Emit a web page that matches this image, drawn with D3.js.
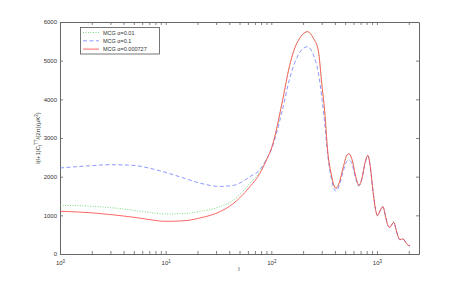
<!DOCTYPE html>
<html>
<head>
<meta charset="utf-8">
<script src="https://cdn.jsdelivr.net/npm/d3@7"></script>
<style>
  body { margin: 0; background: #fff; }
  text { font-family: "Liberation Sans", Arial, sans-serif; fill: #333; }
</style>
</head>
<body>
<div id="chart"></div>
<script>
// multipole values (shared by all curves)
var ells = [1, 2, 3, 5, 7, 10, 15, 21, 33, 43, 50, 63, 78, 90, 100, 128, 148, 164, 190, 220, 250, 278, 303, 320, 341, 370, 408, 440, 480, 520, 542, 580, 630, 674, 720, 770, 820, 860, 920, 970, 1013, 1070, 1137, 1200, 1260, 1325, 1390, 1445, 1520, 1600, 1647, 1710, 1770, 1850, 1950, 2050];

var redVals = [1105, 1065, 1020, 950, 890, 845, 860, 930, 1100, 1290, 1447, 1747, 2085, 2430, 2720, 3979, 4840, 5270, 5620, 5750, 5580, 5270, 4300, 3700, 2687, 2050, 1699, 1850, 2250, 2560, 2594, 2450, 2000, 1776, 1950, 2350, 2551, 2300, 1600, 1150, 991, 1120, 1224, 1000, 760, 690, 770, 819, 620, 420, 370, 385, 388, 320, 240, 207];

var greenVals = [1260, 1235, 1200, 1130, 1075, 1035, 1045, 1100, 1230, 1380, 1532, 1835, 2127, 2450, 2720, 3979, 4840, 5270, 5620, 5750, 5580, 5270, 4300, 3700, 2687, 2050, 1699, 1850, 2250, 2560, 2594, 2450, 2000, 1776, 1950, 2350, 2551, 2300, 1600, 1150, 991, 1120, 1224, 1000, 760, 690, 770, 819, 620, 420, 370, 385, 388, 320, 240, 207];

var blueVals = [2225, 2285, 2310, 2290, 2220, 2110, 1960, 1835, 1747, 1770, 1830, 2005, 2178, 2450, 2700, 3750, 4500, 4900, 5250, 5361, 5150, 4700, 3979, 3400, 2600, 1950, 1629, 1780, 2150, 2400, 2431, 2330, 1950, 1760, 1940, 2330, 2540, 2300, 1600, 1150, 991, 1120, 1224, 1000, 760, 690, 770, 819, 620, 420, 370, 385, 388, 320, 240, 207];

var seriesNames = ["MCG \u03b1=0.01", "MCG \u03b1=0.1", "MCG \u03b1=0.000727"];
var yTicks = [0, 1000, 2000, 3000, 4000, 5000, 6000];

var svg = d3.select("#chart")
  .append("svg")
  .attr("width", 463)
  .attr("height", 287);

var x = d3.scaleLog().domain([1, 2500]).range([60, 419]);
var y = d3.scaleLinear().domain([0, 6000]).range([254, 22]);

// minor + major ticks for the log axis
var xTicks = [];
[1, 10, 100, 1000].forEach(function(p) {
  for (var k = 1; k < 10; k++) {
    if (p * k <= 2500) xTicks.push(p * k);
  }
});
var isPow = function(v) { return [1, 10, 100, 1000].indexOf(v) >= 0; };

function styleAxis(g) {
  g.select(".domain").attr("stroke", "#666").attr("stroke-width", 1);
  g.selectAll(".tick line").attr("stroke", "#666").attr("stroke-width", 0.8);
}

var xAxis = svg.append("g")
  .attr("transform", "translate(0,254)")
  .call(d3.axisBottom(x).tickValues(xTicks).tickSizeInner(-3).tickSizeOuter(0).tickFormat(""))
  .call(styleAxis);

xAxis.selectAll(".tick")
  .filter(function(d) { return isPow(d); })
  .append("text")
  .attr("y", 11)
  .attr("text-anchor", "middle")
  .style("font-size", "6px")
  .each(function(d) {
    var t = d3.select(this);
    t.append("tspan").text("10");
    t.append("tspan").attr("dy", -2.5).style("font-size", "4.5px").text(Math.round(Math.log10(d)));
  });

svg.append("g")
  .attr("transform", "translate(0,22)")
  .call(d3.axisTop(x).tickValues(xTicks).tickSizeInner(-3).tickSizeOuter(0).tickFormat(""))
  .call(styleAxis);

svg.append("g")
  .attr("transform", "translate(60,0)")
  .call(d3.axisLeft(y).tickValues(yTicks).tickSizeInner(-3).tickSizeOuter(0).tickPadding(3).tickFormat(d3.format("d")))
  .call(styleAxis)
  .selectAll("text")
  .style("font-size", "6px")
  .attr("fill", "#333");

svg.append("g")
  .attr("transform", "translate(419,0)")
  .call(d3.axisRight(y).tickValues(yTicks).tickSizeInner(-3).tickSizeOuter(0).tickFormat(""))
  .call(styleAxis);

// axis labels
svg.append("text")
  .attr("x", 239)
  .attr("y", 271)
  .attr("text-anchor", "middle")
  .style("font-size", "6px")
  .text("l");

var yl = svg.append("text")
  .attr("transform", "translate(40,138) rotate(-90)")
  .attr("text-anchor", "middle")
  .style("font-size", "6px");
yl.append("tspan").text("l(l+1)C");
yl.append("tspan").attr("dy", 1.5).style("font-size", "4.5px").text("l");
yl.append("tspan").attr("dy", -4).style("font-size", "4.5px").text("TT");
yl.append("tspan").attr("dy", 2.5).text("/(2\u03c0)(\u03bcK");
yl.append("tspan").attr("dy", -2.5).style("font-size", "4.5px").text("2");
yl.append("tspan").attr("dy", 2.5).text(")");

// curves
var series = [
  { vals: greenVals, color: "#5fcf5f", dash: "1,1.5", name: seriesNames[0] },
  { vals: blueVals, color: "#6f7fff", dash: "4,2.5", name: seriesNames[1] },
  { vals: redVals, color: "#ff4040", dash: null, name: seriesNames[2] }
];

var line = d3.line()
  .x(function(d) { return x(d[0]); })
  .y(function(d) { return y(d[1]); })
  .curve(d3.curveMonotoneX);

series.forEach(function(s) {
  svg.append("path")
    .datum(ells.map(function(l, i) { return [l, s.vals[i]]; }))
    .attr("d", line)
    .attr("fill", "none")
    .attr("stroke", s.color)
    .attr("stroke-width", 0.8)
    .attr("stroke-dasharray", s.dash);
});

// legend
var legend = svg.append("g");
legend.append("rect")
  .attr("x", 80.5)
  .attr("y", 27.5)
  .attr("width", 79)
  .attr("height", 26.5)
  .attr("fill", "#fff")
  .attr("stroke", "#555")
  .attr("stroke-width", 0.8);

series.forEach(function(s, i) {
  var ly = 32.5 + i * 8.3;
  legend.append("line")
    .attr("x1", 83)
    .attr("x2", 99)
    .attr("y1", ly)
    .attr("y2", ly)
    .attr("stroke", s.color)
    .attr("stroke-width", 0.8)
    .attr("stroke-dasharray", s.dash);
  legend.append("text")
    .attr("x", 103)
    .attr("y", ly + 2)
    .style("font-size", "5.5px")
    .text(s.name);
});
</script>
</body>
</html>
